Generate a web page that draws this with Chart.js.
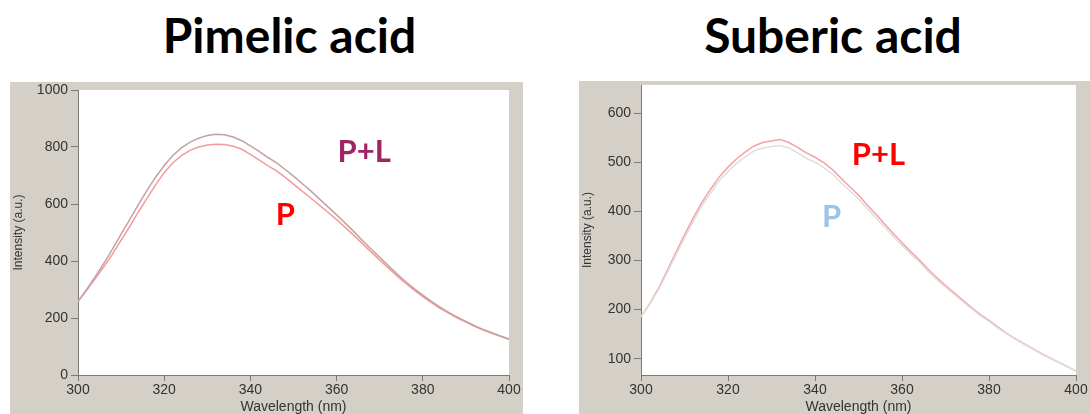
<!DOCTYPE html>
<html>
<head>
<meta charset="utf-8">
<script src="https://cdn.jsdelivr.net/npm/chart.js@4.4.1/dist/chart.umd.min.js"></script>
<style>
  html, body { margin: 0; padding: 0; background: #ffffff; width: 1090px; height: 414px; overflow: hidden; }
  .title {
    position: absolute; top: 11px; width: 400px; text-align: center; white-space: nowrap;
    font-family: Lato, "Open Sans", sans-serif; font-weight: 700; font-size: 48px; line-height: 48px; color: #000;
  }
  canvas { position: absolute; background: #d4d0c8; }
</style>
</head>
<body>
<div class="title" style="left:89.5px">Pimelic acid</div>
<div class="title" style="left:633px">Suberic acid</div>
<canvas id="pimelic" width="513" height="332" style="left:10px;top:82px"></canvas>
<canvas id="suberic" width="511" height="333" style="left:579px;top:81px"></canvas>
<script>
// Emission wavelengths (nm), sampled every 2 nm
const wavelengths = [300,302,304,306,308,310,312,314,316,318,320,322,324,326,328,330,332,334,336,338,
  340,342,344,346,348,350,352,354,356,358,360,362,364,366,368,370,372,374,376,378,
  380,382,384,386,388,390,392,394,396,398,400];

// Pimelic acid: protein alone (P) and protein + ligand (P+L), intensity in a.u.
const pimelicPL = [258,300,345,392,442,494,545,598,648,694,735,770,797,817,831,840,845,843,835,822,
  804,785,764,745,722,698,672,646,618,590,562,533,503,472,442,413,384,355,328,303,
  280,258,238,220,203,188,173,160,148,137,126];
const pimelicP = [258,297,338,380,424,473,521,572,620,667,710,745,770,788,800,807,810,809,803,792,
  774,755,735,717,694,670,645,621,596,571,545,518,490,461,432,404,376,348,322,298,
  275,254,234,217,200,186,171,158,146,136,125];

// Suberic acid: protein alone (P) and protein + ligand (P+L)
const subericPL = [186,212,243,279,316,352,386,418,445,470,490,507,521,533,540,543,546,540,530,519,
  510,499,485,467,450,433,413,394,374,355,336,318,301,282,265,249,234,219,204,190,
  178,165,152,141,131,121,111,102,93,84,75];
const subericP = [186,211,240,275,311,346,379,411,437,462,481,498,511,523,529,532,534,529,519,508,
  500,489,476,458,442,425,406,387,368,349,331,313,297,278,261,246,231,216,202,188,
  176,163,151,140,130,120,110,101,93,84,75];

// Tick labels
const wavelengthTicks = [300,320,340,360,380,400];
const pimelicTicks = [0,200,400,600,800,1000];
const subericTicks = [100,200,300,400,500,600];

const AXIS = '#7a7a7a';
const LABEL = '#333333';
const TICK_FONT = 'Liberation Sans, Arial, sans-serif';

// White plotting area on the grey panel
const plotBackground = {
  id: 'plotBackground',
  beforeDraw(chart) {
    const { ctx, chartArea: a } = chart;
    ctx.save();
    ctx.fillStyle = '#ffffff';
    ctx.fillRect(a.left, a.top, a.right - a.left, a.bottom - a.top);
    ctx.restore();
  }
};

// Series names written next to the curves, anchored in data units (baseline centre)
const seriesNames = {
  id: 'seriesNames',
  afterDatasetsDraw(chart, args, opts) {
    const { ctx, scales: { x, y } } = chart;
    ctx.save();
    ctx.font = '700 31px Lato, "Open Sans", sans-serif';
    ctx.textAlign = 'center';
    ctx.textBaseline = 'alphabetic';
    for (const m of opts.marks) {
      ctx.fillStyle = m.color;
      ctx.fillText(m.text, x.getPixelForValue(m.x), y.getPixelForValue(m.y));
    }
    ctx.restore();
  }
};

function toPoints(values) {
  return wavelengths.map((w, i) => ({ x: w, y: values[i] }));
}

function buildChart(id, cfg) {
  return new Chart(document.getElementById(id), {
    type: 'line',
    data: {
      datasets: cfg.series.map(s => ({
        label: s.label,
        data: toPoints(s.values),
        borderColor: s.color,
        borderWidth: 1.5,
        pointRadius: 0,
        tension: 0,
        fill: false
      }))
    },
    options: {
      responsive: false,
      animation: false,
      devicePixelRatio: 1,
      layout: { padding: { left: 0, top: cfg.padTop, right: 14, bottom: 0 } },
      plugins: {
        legend: { display: false },
        tooltip: { enabled: false },
        seriesNames: { marks: cfg.marks }
      },
      scales: {
        x: {
          type: 'linear',
          position: 'bottom',
          min: 300,
          max: 400,
          border: { color: AXIS, width: 1 },
          grid: { drawOnChartArea: false, drawTicks: true, tickLength: 6, color: AXIS },
          ticks: {
            color: LABEL, font: { family: TICK_FONT, size: 14 }, padding: 1, maxRotation: 0, autoSkip: false,
            callback: v => String(v)
          },
          afterBuildTicks: s => { s.ticks = wavelengthTicks.map(v => ({ value: v })); },
          title: {
            display: true, text: 'Wavelength (nm)', color: LABEL,
            font: { family: TICK_FONT, size: 14, lineHeight: 1 }, padding: 0
          },
          afterFit: s => { s.height = 39; s.paddingLeft = 0; s.paddingRight = 0; }
        },
        y: {
          type: 'linear',
          min: cfg.yMin,
          max: cfg.yMax,
          border: { color: AXIS, width: 1 },
          grid: { drawOnChartArea: false, drawTicks: true, tickLength: 7, color: AXIS },
          ticks: {
            color: LABEL, font: { family: TICK_FONT, size: 14 }, padding: 3, autoSkip: false, includeBounds: false,
            callback: v => String(v)
          },
          afterBuildTicks: s => { s.ticks = cfg.yTicks.map(v => ({ value: v })); },
          title: {
            display: true, text: 'Intensity (a.u.)', color: LABEL,
            font: { family: TICK_FONT, size: 12 }, padding: { top: 1, bottom: 0 }
          },
          afterFit: s => { s.width = cfg.yWidth; s.paddingTop = 0; s.paddingBottom = 0; }
        }
      }
    },
    plugins: [plotBackground, seriesNames]
  });
}

buildChart('pimelic', {
  series: [
    { label: 'P+L', values: pimelicPL, color: '#c3a1a5' },
    { label: 'P', values: pimelicP, color: '#f49a9a' }
  ],
  yMin: 0, yMax: 1000, yTicks: pimelicTicks, yWidth: 68, padTop: 8,
  marks: [
    { text: 'P+L', x: 366.4, y: 747, color: '#9e2464' },
    { text: 'P', x: 348.1, y: 526, color: '#ff0000' }
  ]
});

buildChart('suberic', {
  series: [
    { label: 'P', values: subericP, color: '#dedede' },
    { label: 'P+L', values: subericPL, color: '#f7a1a1' }
  ],
  yMin: 67, yMax: 657, yTicks: subericTicks, yWidth: 62, padTop: 4,
  marks: [
    { text: 'P+L', x: 354.6, y: 494, color: '#ff0000' },
    { text: 'P', x: 343.8, y: 368, color: '#9dc3e6' }
  ]
});
</script>
</body>
</html>
